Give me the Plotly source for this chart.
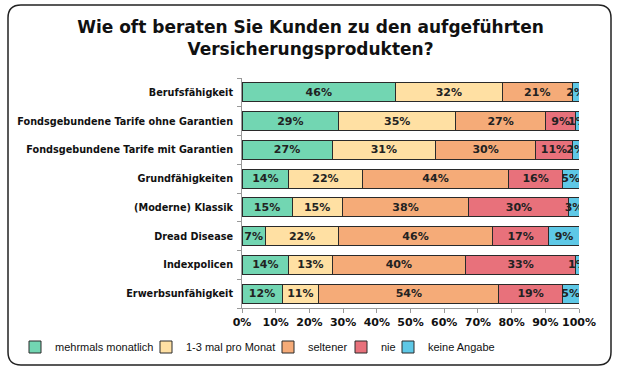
import plotly.graph_objects as go

categories = [
    "Berufsfähigkeit",
    "Fondsgebundene Tarife ohne Garantien",
    "Fondsgebundene Tarife mit Garantien",
    "Grundfähigkeiten",
    "(Moderne) Klassik",
    "Dread Disease",
    "Indexpolicen",
    "Erwerbsunfähigkeit",
]
series_names = ["mehrmals monatlich", "1-3 mal pro Monat", "seltener", "nie", "keine Angabe"]
mehrmals_monatlich = [46, 29, 27, 14, 15, 7, 14, 12]
mal_pro_monat = [32, 35, 31, 22, 15, 22, 13, 11]
seltener = [21, 27, 30, 44, 38, 46, 40, 54]
nie = [0, 9, 11, 16, 30, 17, 33, 19]
keine_angabe = [2, 1, 2, 5, 3, 9, 1, 5]
x_ticks = [0, 10, 20, 30, 40, 50, 60, 70, 80, 90, 100]
x_tick_labels = [f"{t}%" for t in x_ticks]

series_values = [mehrmals_monatlich, mal_pro_monat, seltener, nie, keine_angabe]
colors = ["#72D6B2", "#FFE0A3", "#F5AB78", "#E8717B", "#5EC8E6"]
# legend entry left edges in pixels (layout only)
legend_left_px = [15, 146, 268, 341, 388]

W, H = 621, 371
L, R, T, B = 242, 42, 78, 63
PW, PH = W - L - R, H - T - B
FONT = "DejaVu Sans"
LEG_FONT = "Liberation Sans"

def px2paper(px, py):
    return (px - L) / PW, 1 - (py - T) / PH

fig = go.Figure()
for i, (name, vals, col) in enumerate(zip(series_names, series_values, colors)):
    fig.add_trace(go.Bar(
        name=name, y=categories, x=vals, orientation="h",
        marker=dict(color=col, line=dict(color="#2a2a2a", width=1)),
        text=[f"{v}%" if v > 0 else "" for v in vals],
        textposition="inside", insidetextanchor="middle", textangle=0,
        textfont=dict(family=FONT, size=11, color="#222", weight="bold"),
        width=0.66, showlegend=True,
        legend="legend" if i == 0 else f"legend{i + 1}",
    ))

def P(px, py):
    a, b = px2paper(px, py)
    return f"{a:.5f},{b:.5f}"

# rounded frame
x0, y0, x1, y1, r = 8, 5, 611, 365, 13
path = (f"M {P(x0 + r, y0)} L {P(x1 - r, y0)} Q {P(x1, y0)} {P(x1, y0 + r)} "
        f"L {P(x1, y1 - r)} Q {P(x1, y1)} {P(x1 - r, y1)} "
        f"L {P(x0 + r, y1)} Q {P(x0, y1)} {P(x0, y1 - r)} "
        f"L {P(x0, y0 + r)} Q {P(x0, y0)} {P(x0 + r, y0)} Z")

legends = {}
for i, lx in enumerate(legend_left_px):
    ax, ay = px2paper(lx, 347)
    key = "legend" if i == 0 else f"legend{i + 1}"
    legends[key] = dict(orientation="h", xref="paper", x=ax, xanchor="left",
                        yref="paper", y=ay, yanchor="middle",
                        bgcolor="rgba(0,0,0,0)", borderwidth=0,
                        font=dict(family=LEG_FONT, size=11, color="#111"),
                        itemwidth=30, visible=True)

fig.update_layout(
    width=W, height=H, showlegend=True,
    barmode="stack", barnorm="percent",
    margin=dict(l=L, r=R, t=T, b=B, autoexpand=False),
    paper_bgcolor="white", plot_bgcolor="white",
    title=dict(text="Wie oft beraten Sie Kunden zu den aufgeführten<br>Versicherungsprodukten?",
               x=0.5, xref="container", xanchor="center",
               y=1 - 33 / H, yref="container", yanchor="middle",
               font=dict(family=FONT, size=17, color="#111", weight="bold")),
    font=dict(family=FONT, color="#111"),
    uniformtext=dict(minsize=11, mode="show"),
    xaxis=dict(range=[0, 100], tickvals=x_ticks, ticktext=x_tick_labels,
               showgrid=False, zeroline=False, showline=True, linecolor="#999", linewidth=1,
               ticks="outside", ticklen=4, tickcolor="#999",
               tickfont=dict(family=FONT, size=11, color="#111", weight="bold")),
    yaxis=dict(categoryorder="array", categoryarray=categories[::-1],
               showgrid=False, zeroline=False, showline=True, linecolor="#999", linewidth=1,
               ticks="outside", ticklen=4, tickcolor="#999", tickson="boundaries",
               ticklabelstandoff=6,
               tickfont=dict(family=FONT, size=9.7, color="#111", weight="bold")),
    shapes=[dict(type="path", path=path, xref="paper", yref="paper",
                 line=dict(color="#222", width=1.5), layer="above")],
    bargap=0.34,
    **legends,
)

fig.write_html("out.html", post_script="document.body.style.margin='0';",
               config={"displayModeBar": False})
